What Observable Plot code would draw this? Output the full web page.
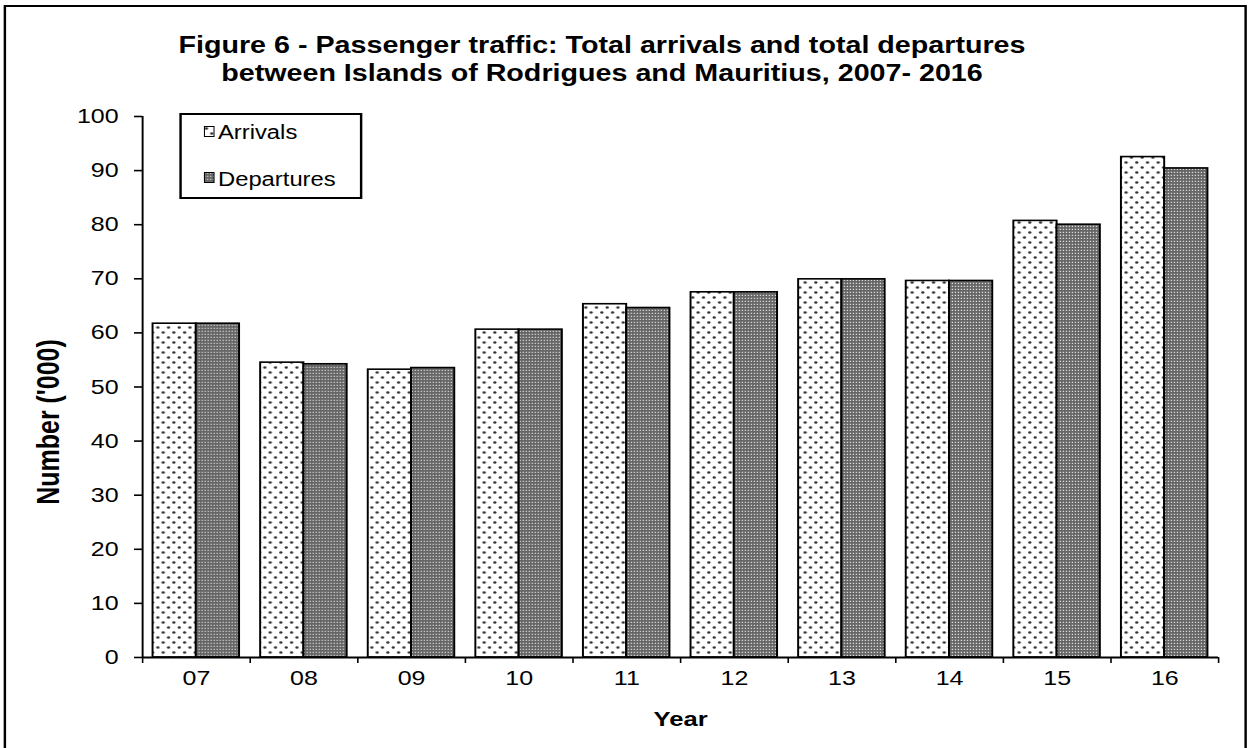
<!DOCTYPE html>
<html>
<head>
<meta charset="utf-8">
<script src="https://cdn.jsdelivr.net/npm/d3@7"></script>
<script src="https://cdn.jsdelivr.net/npm/@observablehq/plot@0.6"></script>
<style>
  html, body { margin: 0; padding: 0; background: #fff; overflow: hidden; width: 1249px; height: 748px; }
  #fig { position: relative; height: 748px; transform-origin: 0 0; font-family: "Liberation Sans", Arial, sans-serif; color: #000; }
  #border { position: absolute; border: 2px solid #000; box-sizing: border-box; }
  #title { position: absolute; left: 0; text-align: center; font-weight: bold; font-size: 23.5px; line-height: 28px; white-space: nowrap; }
  #legend { position: absolute; border: 2px solid #000; box-sizing: border-box; background: #fff; }
  .item { position: absolute; font-size: 19.5px; line-height: 19px; white-space: nowrap; }
  .item svg { position: absolute; }
  #chart { position: absolute; left: 0; top: 0; }
  #chart svg g[aria-label^="y-axis"] line, #chart svg g[aria-label^="y-axis"] path { stroke-width: 1.6; }
  #chart svg g[aria-label^="x-axis"] line, #chart svg g[aria-label^="x-axis"] path { stroke-width: 1.3; }
</style>
</head>
<body>
<svg width="0" height="0" style="position:absolute">
  <defs>
    <pattern id="pArr" patternUnits="userSpaceOnUse" width="8.77" height="10">
      <rect width="8.77" height="10" fill="#ffffff"/>
      <circle cx="2.2" cy="2.5" r="1.35" fill="#333"/>
      <circle cx="6.6" cy="7.5" r="1.35" fill="#333"/>
    </pattern>
    <pattern id="pDep" patternUnits="userSpaceOnUse" width="2.46" height="3">
      <rect width="2.46" height="3" fill="#666666"/>
      <rect x="0.4" y="0.8" width="0.9" height="1.1" fill="#eeeeee"/>
    </pattern>
  </defs>
</svg>
<div id="fig">
  <div id="border"></div>
  <div id="title">Figure 6 - Passenger traffic: Total arrivals and total departures<br>between Islands of Rodrigues and Mauritius, 2007- 2016</div>
  <div id="chart"></div>
  <div id="legend"></div>
</div>
<script>
// ---- data ----
const years = [2007, 2008, 2009, 2010, 2011, 2012, 2013, 2014, 2015, 2016];
const yearLabels = ["07", "08", "09", "10", "11", "12", "13", "14", "15", "16"];
const arrivals = [61.7, 54.5, 53.2, 60.6, 65.3, 67.5, 69.9, 69.6, 80.7, 92.5];
const departures = [61.7, 54.2, 53.5, 60.6, 64.6, 67.5, 69.9, 69.6, 80.0, 90.4];
const yTicks = [0, 10, 20, 30, 40, 50, 60, 70, 80, 90, 100];
const seriesNames = ["Arrivals", "Departures"];

// ---- layout (the reference image is horizontally stretched) ----
const S = 1.22;
const W = 1249 / S;
const fig = document.getElementById("fig");
fig.style.width = W + "px";
fig.style.transform = `scaleX(${S})`;

const border = document.getElementById("border");
border.style.left = (4 / S) + "px";
border.style.top = "5px";
border.style.width = ((1247 - 4) / S) + "px";
border.style.height = "800px";

const title = document.getElementById("title");
title.style.width = (2 * 602 / S) + "px";
title.style.top = "31px";

const rows = years.map((year, i) => ({year, label: yearLabels[i], arrivals: arrivals[i], departures: departures[i]}));
const boundaries = [years[0] - 0.5, ...years.map(y => y + 0.5)];
const barFrac = 0.402;

const chart = Plot.plot({
  width: W,
  height: 748,
  marginLeft: 142 / S,
  marginRight: (1249 - 1218) / S,
  marginTop: 116,
  marginBottom: 91,
  style: {background: "transparent", fontFamily: "'Liberation Sans', Arial, sans-serif", fontSize: "20.5px", color: "#000", overflow: "visible"},
  x: {domain: [boundaries[0], boundaries[boundaries.length - 1]], ticks: boundaries, tickFormat: () => "", tickSize: 6, label: null},
  y: {domain: [0, 100], ticks: yTicks, tickSize: 8 / S, tickPadding: 16 / S, label: null},
  marks: [
    Plot.rectY(rows, {x1: d => d.year - barFrac, x2: d => d.year, y: "arrivals", fill: "url(#pArr)", stroke: "#000", strokeWidth: 1.6}),
    Plot.rectY(rows, {x1: d => d.year, x2: d => d.year + barFrac, y: "departures", fill: "url(#pDep)", stroke: "#000", strokeWidth: 1.6}),
    Plot.ruleY([0], {stroke: "#000", strokeWidth: 2}),
    Plot.ruleX([boundaries[0]], {stroke: "#000", strokeWidth: 1.6}),
    Plot.text(rows, {x: "year", text: "label", frameAnchor: "bottom", dy: 28, fontSize: 20.5, fill: "#000"}),
    Plot.text(["Year"], {frameAnchor: "bottom", dy: 69, fontWeight: "bold", fontSize: 21, fill: "#000"}),
    Plot.text(["Number ('000)"], {frameAnchor: "left", textAnchor: "middle", rotate: -90, dx: -(142 - 49) / S, dy: 35, fontWeight: "bold", fontSize: 25, fill: "#000"})
  ]
});
document.getElementById("chart").appendChild(chart);

// ---- legend ----
const legend = document.getElementById("legend");
legend.style.left = (179 / S) + "px";
legend.style.top = "113px";
legend.style.width = ((362 - 179) / S) + "px";
legend.style.height = "86px";
const legendFills = ["url(#pArr)", "url(#pDep)"];
const legendCenters = [131, 177.5];
seriesNames.forEach((name, i) => {
  const item = document.createElement("div");
  item.className = "item";
  item.style.left = ((204 - 179) / S - 2) + "px";
  item.style.top = (legendCenters[i] - 113 - 2 - 6) + "px";
  const sw = 11 / S;
  item.innerHTML = `<svg width="${sw}" height="11" style="left:0;top:0.5px"><rect x="0.5" y="0.5" width="${sw - 1}" height="10" fill="${legendFills[i]}" stroke="#000" stroke-width="1"/></svg>` +
    `<span style="position:absolute;left:${14 / S}px;top:-2px">${name}</span>`;
  legend.appendChild(item);
});
</script>
</body>
</html>
